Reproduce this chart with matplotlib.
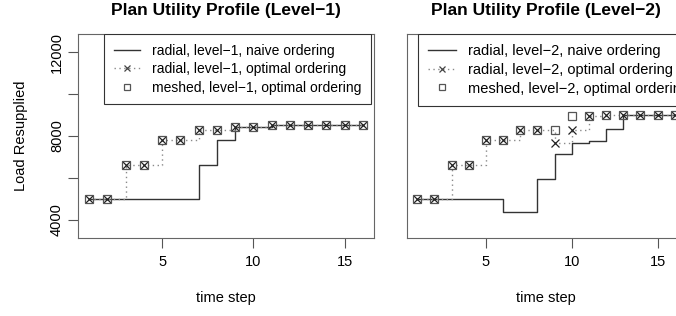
import numpy as np
import matplotlib.pyplot as plt

plt.rcParams['font.family'] = ['Liberation Sans', 'DejaVu Sans']

# time steps
steps = np.arange(1, 17)

# level-1 panel values
naive_l1 = [5000, 5000, 5000, 5000, 5000, 5000, 6600, 7800,
            8430, 8430, 8520, 8520, 8520, 8520, 8520, 8520]
opt_l1 = [5000, 5000, 6600, 6600, 7800, 7800, 8300, 8300,
          8430, 8430, 8520, 8520, 8520, 8520, 8520, 8520]
mesh_l1 = [5000, 5000, 6600, 6600, 7800, 7800, 8300, 8300,
           8430, 8430, 8520, 8520, 8520, 8520, 8520, 8520]

# level-2 panel values
naive_l2 = [5000, 5000, 5000, 5000, 5000, 4360, 4360, 5940,
            7160, 7650, 7740, 8350, 9000, 9000, 9000, 9000]
opt_l2 = [5000, 5000, 6600, 6600, 7800, 7800, 8300, 8300,
          7660, 8290, 8950, 8980, 9000, 9000, 9000, 9000]
mesh_l2 = [5000, 5000, 6600, 6600, 7800, 7800, 8300, 8300,
           8280, 8950, 8950, 8980, 9000, 9000, 9000, 9000]

titles = ["Plan Utility Profile (Level\u22121)", "Plan Utility Profile (Level\u22122)"]
labels_l1 = ["radial, level\u22121, naive ordering",
             "radial, level\u22121, optimal ordering",
             "meshed, level\u22121, optimal ordering"]
labels_l2 = ["radial, level\u22122, naive ordering",
             "radial, level\u22122, optimal ordering",
             "meshed, level\u22122, optimal ordering"]

W, H = 676, 316
fig = plt.figure(figsize=(W / 100, H / 100), dpi=100)


def px_axes(x0, x1, y0, y1):
    return fig.add_axes([x0 / W, 1 - y1 / H, (x1 - x0) / W, (y1 - y0) / H])


ax1 = px_axes(78, 374, 34, 238)
ax2 = px_axes(407, 685, 34, 238)

panels = [
    (ax1, naive_l1, opt_l1, mesh_l1, labels_l1, 0.088, 10.0),
    (ax2, naive_l2, opt_l2, mesh_l2, labels_l2, 0.040, 10.5),
]

for i, (ax, nv, op, ms, labs, legx, legfs) in enumerate(panels):
    h1, = ax.step(steps, nv, where='post', color='#333333', lw=1.0)
    ax.step(steps, op, where='post', color='#8a8a8a', lw=1.0, ls=(0, (1, 2.5)))
    ax.plot(steps, op, ls='none', marker='x', ms=5.5, mew=0.9, color='#222222')
    h2, = ax.plot([], [], color='#8a8a8a', lw=1.0, ls=(0, (1, 2.5)),
                  marker='x', ms=5.5, mew=0.9, mec='#444444')
    h3, = ax.plot(steps, ms, ls='none', marker='s', ms=6, mew=0.9,
                  mfc='none', mec='#555555')

    ax.set_xlim(0.4, 16.6)
    ax.set_ylim(3140, 12860)
    ax.set_xticks([5, 10, 15])
    ax.tick_params(axis='x', length=7, width=0.8, color='#555555',
                   labelsize=10.5, pad=5)
    for s in ax.spines.values():
        s.set_color('#666666')
        s.set_linewidth(0.8)
    ax.set_xlabel("time step", fontsize=10.5, labelpad=16)
    ax.set_title(titles[i], fontsize=12.5, fontweight='bold', pad=14)

    if i == 0:
        ax.set_yticks([4000, 6000, 8000, 10000, 12000])
        ax.set_yticklabels(["4000", "", "8000", "", "12000"],
                           rotation=90, va='center')
        ax.tick_params(axis='y', length=7, width=0.8, color='#555555',
                       labelsize=10.5, pad=3)
        ax.set_ylabel("Load Resupplied", fontsize=10.5, labelpad=16)
    else:
        ax.set_yticks([])

    leg = ax.legend([h1, h2, h3], labs, loc='upper left',
                    bbox_to_anchor=(legx, 1.0), fontsize=legfs,
                    frameon=True, fancybox=False, framealpha=1,
                    edgecolor='#333333', handlelength=1.9,
                    handletextpad=0.85, labelspacing=0.32,
                    borderpad=0.7, borderaxespad=0, markerscale=0.75)
    leg.get_frame().set_linewidth(0.8)
    for a in leg.findobj():
        a.set_clip_path(ax.patch)

fig.savefig("out.png", dpi=100)
